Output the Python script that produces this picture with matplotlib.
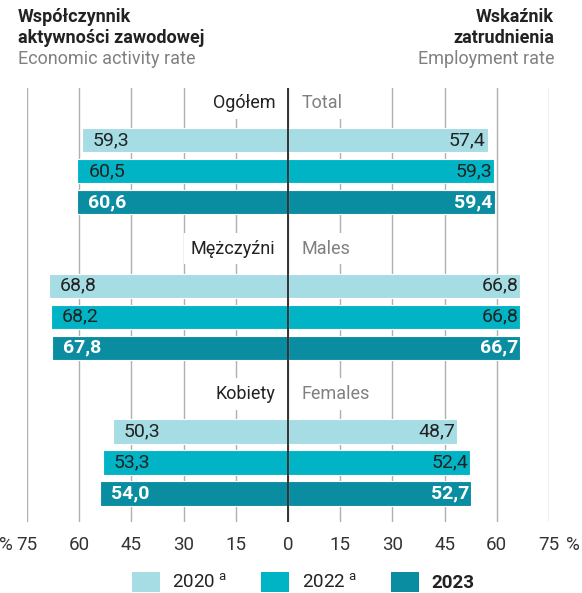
import numpy as np
import matplotlib
matplotlib.use("Agg")
import matplotlib.pyplot as plt
from matplotlib.patches import Patch

plt.rcParams['font.family'] = ['Roboto', 'DejaVu Sans']
plt.rcParams['mathtext.fontset'] = 'custom'
plt.rcParams['mathtext.rm'] = 'Roboto'

# data
groups_pl = ["Ogółem", "Mężczyźni", "Kobiety"]
groups_en = ["Total", "Males", "Females"]
years = ["2020", "2022", "2023"]
activity = [[59.3, 60.5, 60.6],   # Ogółem
            [68.8, 68.2, 67.8],   # Mężczyźni
            [50.3, 53.3, 54.0]]   # Kobiety
employment = [[57.4, 59.3, 59.4],
              [66.8, 66.8, 66.7],
              [48.7, 52.4, 52.7]]
xticks = [-75, -60, -45, -30, -15, 0, 15, 30, 45, 60, 75]

colors = ["#a6dce4", "#00b4c5", "#0a8da0"]
text_colors = ["#222222", "#222222", "white"]
weights = ["normal", "normal", "bold"]

W, H = 582, 593
fig = plt.figure(figsize=(W / 100, H / 100), dpi=100)
ax = fig.add_axes([27 / W, (H - 522) / H, (549 - 27) / W, (522 - 88) / H])

group_step = 4.7
bar_h = 0.79
for g in range(len(groups_pl)):
    base = g * group_step
    for j in range(len(years)):
        y = base + j
        a = activity[g][j]
        e = employment[g][j]
        ax.barh(y, -a, height=bar_h, color=colors[j], edgecolor='white', linewidth=0.8, zorder=3)
        ax.barh(y, e, height=bar_h, color=colors[j], edgecolor='white', linewidth=0.8, zorder=3)
        ax.annotate(f"{a:.1f}".replace('.', ','), (-a, y), xytext=(8, 0), textcoords='offset points',
                    ha='left', va='center', fontsize=14, color=text_colors[j],
                    fontweight=weights[j], zorder=5)
        ax.annotate(f"{e:.1f}".replace('.', ','), (e, y), xytext=(-1.5, 0), textcoords='offset points',
                    ha='right', va='center', fontsize=14, color=text_colors[j],
                    fontweight=weights[j], zorder=5)
    # category labels
    ax.annotate(groups_pl[g], (0, base - 1.2), xytext=(-9, 0), textcoords='offset points',
                ha='right', va='center', fontsize=13, color='#222222', zorder=4,
                bbox=dict(facecolor='white', edgecolor='none', pad=5))
    ax.annotate(groups_en[g], (0, base - 1.2), xytext=(10, 0), textcoords='offset points',
                ha='left', va='center', fontsize=13, color='#808080', zorder=4,
                bbox=dict(facecolor='white', edgecolor='none', pad=5))

ax.axvline(0, color='#333333', linewidth=1.4, zorder=6)

ax.set_xlim(-75, 75)
ax.set_ylim(12.32, -1.68)
ax.set_xticks(xticks)
ax.set_xticklabels([str(abs(t)) for t in xticks], fontsize=13.5, color='#333333')
ax.tick_params(axis='x', length=0, pad=10)
ax.set_yticks([])
for s in ax.spines.values():
    s.set_visible(False)
ax.grid(True, axis='x', color='#b0b0b0', linewidth=1, zorder=1)
ax.set_axisbelow(True)

# percent signs at the axis ends
ax.annotate("%", (-75, 0), xycoords=('data', 'axes fraction'), xytext=(-10.5, -10),
            textcoords='offset points', ha='right', va='top', fontsize=13.5, color='#333333')
ax.annotate("%", (75, 0), xycoords=('data', 'axes fraction'), xytext=(12, -10),
            textcoords='offset points', ha='left', va='top', fontsize=13.5, color='#333333')

# headers
fig.text(18 / W, 1 - 17 / H, "Współczynnik", ha='left', va='center', fontsize=13, fontweight='bold', color='#222222')
fig.text(18 / W, 1 - 38 / H, "aktywności zawodowej", ha='left', va='center', fontsize=13, fontweight='bold', color='#222222')
fig.text(18 / W, 1 - 59 / H, "Economic activity rate", ha='left', va='center', fontsize=13, color='#808080')
fig.text(554 / W, 1 - 17 / H, "Wskaźnik", ha='right', va='center', fontsize=13, fontweight='bold', color='#222222')
fig.text(554 / W, 1 - 38 / H, "zatrudnienia", ha='right', va='center', fontsize=13, fontweight='bold', color='#222222')
fig.text(554 / W, 1 - 59 / H, "Employment rate", ha='right', va='center', fontsize=13, color='#808080')

# legend
handles = [Patch(facecolor=c, edgecolor='none') for c in colors]
labels = [years[0] + r" $^{\mathrm{a}}$", years[1] + r" $^{\mathrm{a}}$", years[2]]
leg = fig.legend(handles, labels, loc='center', bbox_to_anchor=(303 / W, 1 - 582 / H), ncol=3,
                 frameon=False, fontsize=13.5, handlelength=1.5, handleheight=1.26,
                 handletextpad=0.66, columnspacing=1.8, borderpad=0)
for t in leg.get_texts():
    t.set_color('#222222')
leg.get_texts()[2].set_fontweight('bold')

fig.savefig("out.png", dpi=100)
